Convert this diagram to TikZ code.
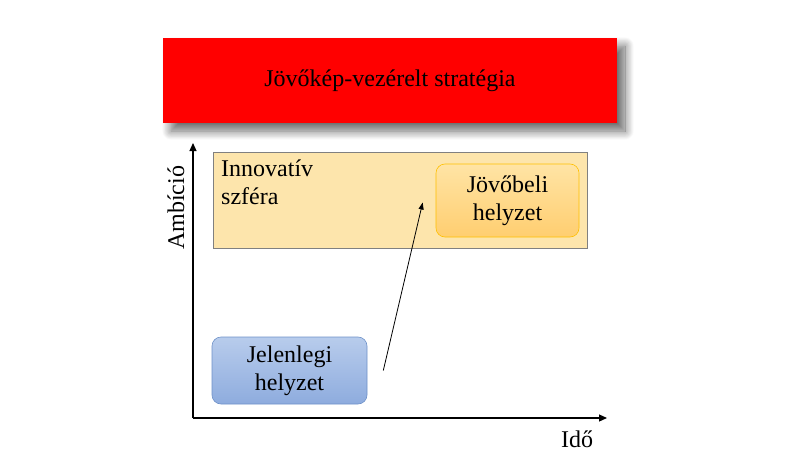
\documentclass[tikz,border=0pt]{standalone}
\usepackage{fontspec}
\setmainfont{Liberation Serif}
\usepackage{tikz}
\usetikzlibrary{arrows.meta,shadows.blur,positioning}

\begin{document}
\begin{tikzpicture}[x=1pt,y=-1pt]
        \tikzstyle{banner}=[rectangle, fill=red, minimum width=454pt, minimum height=85pt, inner sep=0pt,
          blur shadow={shadow xshift=8pt, shadow yshift=-8pt, shadow opacity=60, shadow blur radius=9pt, shadow blur steps=20}]
        \tikzstyle{sphere}=[rectangle, draw=black!50, fill=yellow!40!orange!30, line width=0.6pt,
          minimum width=374pt, minimum height=96pt, inner sep=0pt]
        \tikzstyle{state}=[rectangle, rounded corners=9pt, line width=0.6pt, inner sep=0pt]
        \tikzstyle{axis}=[line width=1.2pt, -{Triangle[length=8pt,width=7pt]}]
        \tikzstyle{txt}=[font=\rmfamily\fontsize{24}{28}\selectfont]
        \useasboundingbox (0,0) rectangle (808,476);
        % strategy banner
        \node [banner, txt] (vision) at (390,80.5) {Jövőkép-vezérelt stratégia};
        % axes
        \coordinate (origin) at (193,418);
        \coordinate (ytop) at (193,143);
        \coordinate (xend) at (607,418);
        \draw [axis] (origin) -- (ytop);
        \draw [axis] (origin) -- (xend);
        \node [txt, rotate=90] (ambicio) at (176,208) {Ambíció};
        \node [txt] (ido) at (577,439) {Idő};
        % innovative sphere
        \node [sphere] (szfera) at (400,200) {};
        \node [txt, anchor=north west, inner sep=0pt] (szferalbl) at (221,157)
          {\begin{tabular}{@{}l@{}}Innovatív\\szféra\end{tabular}};
        % states
        \node [state, txt, draw={rgb,255:red,255;green,192;blue,0}, top color={rgb,255:red,255;green,228;blue,165},
          bottom color={rgb,255:red,255;green,206;blue,112}, minimum width=143pt, minimum height=73pt]
          (jovo) at (507.5,200.5) {\begin{tabular}{@{}c@{}}Jövőbeli\\helyzet\end{tabular}};
        \node [state, txt, draw={rgb,255:red,110;green,145;blue,200}, top color={rgb,255:red,184;green,204;blue,236},
          bottom color={rgb,255:red,142;green,172;blue,222}, minimum width=155pt, minimum height=67pt]
          (jelen) at (289.5,370.5) {\begin{tabular}{@{}c@{}}Jelenlegi\\helyzet\end{tabular}};
        \draw [-{Triangle[length=7pt,width=5pt]}, line width=0.8pt]
          ([xshift=16pt]jelen.east) -- ([xshift=-13pt,yshift=-2pt]jovo.west);
\end{tikzpicture}
\end{document}
